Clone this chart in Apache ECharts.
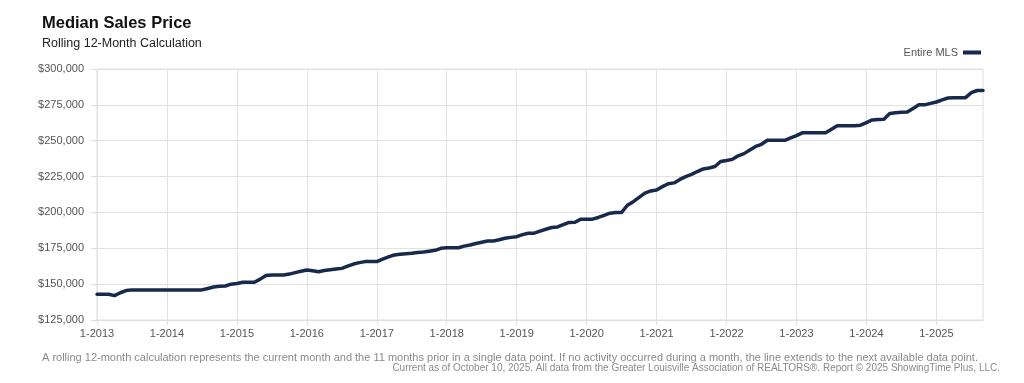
<!DOCTYPE html>
<html>
<head>
<meta charset="utf-8">
<script src="https://cdn.jsdelivr.net/npm/echarts@6/dist/echarts.min.js"></script>
<style>
html,body{margin:0;padding:0;background:#fff;}
#chart{width:1024px;height:383px;}
</style>
</head>
<body>
<div id="chart"></div>
<script>
// ---- Data ----
var years = [2013,2014,2015,2016,2017,2018,2019,2020,2021,2022,2023,2024,2025];
var lastMonth2025 = 9;
var v2013 = [143000,143000,143000,142000,144000,145500,146000,146000,146000,146000,146000,146000];
var v2014 = [146000,146000,146000,146000,146000,146000,146000,147000,148000,148500,148700,150000];
var v2015 = [150500,151300,151300,151300,153500,156000,156400,156400,156400,157000,158000,159000];
var v2016 = [159900,159300,158700,159500,160000,160500,161000,162500,164000,165000,165700,165700];
var v2017 = [165700,167500,169000,170300,170800,171200,171500,172000,172400,173000,173600,175000];
var v2018 = [175400,175400,175400,176500,177300,178300,179200,180100,180100,181000,182000,182600];
var v2019 = [183100,184500,185500,185500,187000,188300,189500,189900,191500,193000,193200,195300];
var v2020 = [195300,195300,196500,198000,199500,200000,200000,205000,207500,210500,213500,215000];
var v2021 = [215700,218000,220000,220600,223000,225000,226500,228500,230300,231000,232000,235500];
var v2022 = [236200,237000,239500,241000,243500,246000,247500,250300,250300,250300,250300,252000];
var v2023 = [253500,255500,255600,255600,255600,255600,258000,260500,260500,260500,260500,260800];
var v2024 = [262600,264500,264800,265000,269000,269500,269900,270000,272500,275000,275000,276000];
var v2025 = [277000,278500,279800,280000,280000,280000,283500,285000,285000];
var seriesName = 'Entire MLS';
var yMin = 125000, yMax = 300000, yStep = 25000;

var values = [].concat(v2013,v2014,v2015,v2016,v2017,v2018,v2019,v2020,v2021,v2022,v2023,v2024,v2025);
var categories = [];
years.forEach(function(y){
  var n = (y === 2025) ? lastMonth2025 : 12;
  for (var m = 1; m <= n; m++) categories.push(m + '-' + y);
});

var FONT = "'Liberation Sans', Arial, Helvetica, sans-serif";

var chart = echarts.init(document.getElementById('chart'), null, {renderer:'canvas'});
chart.setOption({
  animation: false,
  backgroundColor: '#fff',
  title: [
    {text: 'Median Sales Price', left: 42, top: 15, padding: 0,
     textStyle: {fontFamily: FONT, fontSize: 16.5, fontWeight: 'bold', color: '#111'}},
    {text: 'Rolling 12-Month Calculation', left: 42, top: 37, padding: 0,
     textStyle: {fontFamily: FONT, fontSize: 12.5, fontWeight: 'normal', color: '#222'}},
    {text: 'A rolling 12-month calculation represents the current month and the 11 months prior in a single data point. If no activity occurred during a month, the line extends to the next available data point.',
     left: 42, top: 352, padding: 0,
     textStyle: {fontFamily: FONT, fontSize: 11, fontWeight: 'normal', color: '#8a8a8a'}},
    {text: 'Current as of October 10, 2025. All data from the Greater Louisville Association of REALTORS®. Report © 2025 ShowingTime Plus, LLC.',
     right: 24, top: 363, padding: 0,
     textStyle: {fontFamily: FONT, fontSize: 10, fontWeight: 'normal', color: '#8a8a8a'}}
  ],
  legend: {
    right: 38, top: 42,
    align: 'right',
    icon: 'rect', itemWidth: 18, itemHeight: 4, itemGap: 6,
    textStyle: {fontFamily: FONT, fontSize: 11, color: '#555'},
    data: [seriesName]
  },
  grid: {left: 97, right: 41, top: 69, bottom: 63, show: true, borderColor: '#dedede', borderWidth: 1},
  xAxis: {
    type: 'category', data: categories, boundaryGap: false,
    axisLine: {lineStyle: {color: '#dedede'}},
    axisTick: {show: true, interval: 11, length: 5, lineStyle: {color: '#dedede'}},
    splitLine: {show: true, interval: 11, lineStyle: {color: '#e2e2e2', width: 1}},
    axisLabel: {interval: 11, margin: 8, fontFamily: FONT, fontSize: 11, color: '#555'}
  },
  yAxis: {
    type: 'value', min: yMin, max: yMax, interval: yStep,
    axisLine: {show: false},
    axisTick: {show: true, length: 6, lineStyle: {color: '#dedede'}},
    splitLine: {show: true, lineStyle: {color: '#e2e2e2', width: 1}},
    axisLabel: {margin: 13, fontFamily: FONT, fontSize: 11, color: '#555',
      formatter: function(v){ return '$' + v.toLocaleString('en-US'); }}
  },
  series: [{
    name: seriesName, type: 'line', data: values,
    showSymbol: false, symbol: 'none', smooth: false,
    lineStyle: {color: '#172a4b', width: 3.5, join: 'round', cap: 'round'},
    itemStyle: {color: '#172a4b'}
  }]
});
</script>
</body>
</html>
